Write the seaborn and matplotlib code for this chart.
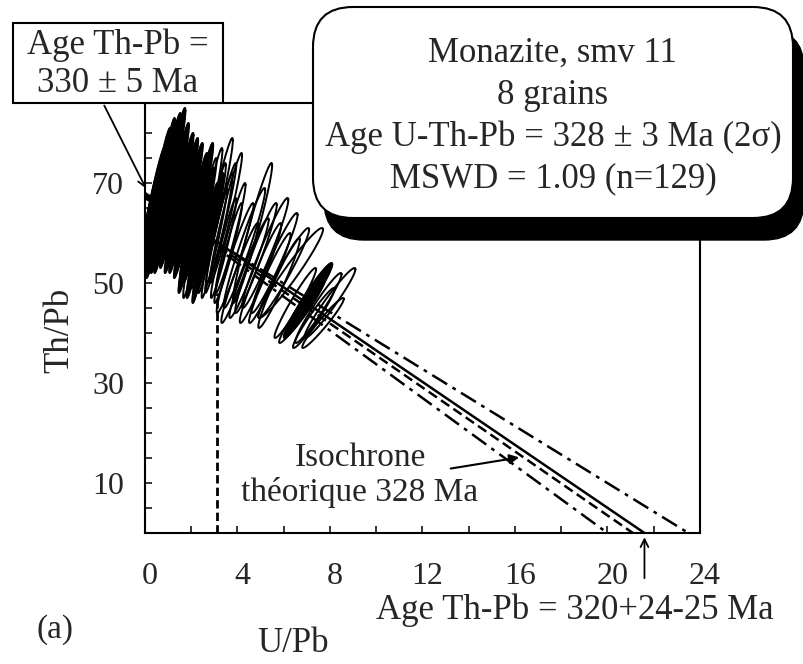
import numpy as np
import seaborn as sns
import matplotlib.pyplot as plt
from matplotlib.patches import FancyBboxPatch, Rectangle
from matplotlib.transforms import ScaledTranslation

# monazite analyses: ellipse centre (U/Pb, Th/Pb), half extents, filled or not
ell_x = [0.2, 0.3, 0.4, 0.5, 0.6, 0.7, 0.8, 0.9, 1.0, 1.1, 1.2, 1.3, 1.4, 1.5, 1.6, 1.7, 1.8,
         1.9, 2.0, 2.1, 2.2, 2.3, 2.4, 2.5, 2.6, 2.7, 2.8, 2.9, 3.0, 3.1, 3.2, 3.3, 3.4, 3.5, 3.6, 3.7,
         3.9, 4.1, 4.3, 4.5, 4.65, 4.8, 5.0, 5.2, 5.4, 5.6, 5.8, 6.0, 6.3,
         6.5, 6.7, 6.9, 7.1, 7.3, 7.5, 7.7, 8.0]
ell_y = [63, 65, 61, 67, 63, 68, 64, 69, 66, 70, 65, 68, 63, 67, 64, 66, 62,
         65, 60, 63, 59, 64, 60, 62, 58, 63, 60, 61, 58, 65, 60, 62, 57, 63, 56, 59,
         55, 52, 57, 53, 60, 55, 52, 56, 51, 54, 50, 52, 52,
         46, 44, 45, 47, 43, 45, 42, 46]
ell_sx = [0.5, 0.55, 0.5, 0.6, 0.55, 0.6, 0.55, 0.65, 0.6, 0.65, 0.55, 0.6, 0.55, 0.6, 0.55, 0.6, 0.55,
          0.6, 0.55, 0.6, 0.55, 0.65, 0.6, 0.6, 0.55, 0.65, 0.6, 0.6, 0.55, 0.7, 0.6, 0.65, 0.55, 0.7, 0.6, 0.65,
          0.8, 0.8, 0.9, 0.85, 0.85, 0.9, 0.9, 1.0, 0.9, 1.0, 0.9, 1.1, 1.4,
          0.9, 0.9, 0.9, 1.0, 0.9, 1.0, 0.9, 1.1]
ell_sy = [11, 12, 10, 14, 12, 15, 12, 15, 14, 15, 12, 14, 11, 13, 12, 13, 11,
          13, 12, 13, 12, 14, 13, 13, 12, 14, 12, 13, 11, 14, 12, 12, 10, 13, 10, 11,
          11, 10, 12, 10, 14, 11, 10, 11, 9, 10, 9, 9, 9,
          7, 6, 6, 7, 6, 7, 5, 7]
ell_fill = [0, 1, 1, 1, 1, 1, 1, 1, 1, 1, 1, 1, 1, 1, 1, 1, 1,
            1, 1, 1, 0, 1, 1, 0, 1, 0, 1, 0, 0, 0, 0, 0, 0, 0, 0, 0,
            0, 0, 0, 0, 0, 0, 0, 0, 0, 0, 0, 0, 0,
            0, 0, 1, 1, 0, 0, 0, 0]
rho = 0.965

# isochrones: Th/Pb intercept and U/Pb intercept
iso_y0 = [67.5, 67.5, 68.0, 67.0]
iso_x0 = [20.0, 21.1, 21.6, 23.5]
iso_ls = [(0, (7, 2.5, 1.5, 2.5)), (0, (4, 2)), "-", (0, (7, 2.5, 1.5, 2.5))]

u_pb_ticks = [0, 2, 4, 6, 8, 10, 12, 14, 16, 18, 20, 22, 24]
u_pb_labels = ["0", "", "4", "", "8", "", "12", "", "16", "", "20", "", "24"]
th_pb_ticks = [5, 10, 15, 20, 25, 30, 35, 40, 45, 50, 55, 60, 65, 70, 75, 80]
th_pb_labels = ["", "10", "", "", "", "30", "", "", "", "50", "", "", "", "70", "", ""]

box_lines = ["Monazite, smv 11", "8 grains",
             "Age U-Th-Pb = 328 \u00b1 3 Ma (2\u03c3)", "MSWD = 1.09 (n=129)"]

sns.set_style("ticks")
plt.rcParams['font.family'] = ['Liberation Serif', 'DejaVu Serif']

fig = plt.figure(figsize=(8.04, 6.64), dpi=100)
ax = fig.add_axes([0.1803, 0.1973, 0.6903, 0.6476])

t = np.linspace(0, 2 * np.pi, 140)
for cx, cy, sx, sy, f in zip(ell_x, ell_y, ell_sx, ell_sy, ell_fill):
    ex = cx + sx * np.cos(t)
    ey = cy + sy * (rho * np.cos(t) + np.sqrt(1 - rho ** 2) * np.sin(t))
    if f:
        ax.fill(ex, ey, color="black", zorder=2)
    ax.plot(ex, ey, color="black", lw=1.4, zorder=3)

for y0, x0, ls in zip(iso_y0, iso_x0, iso_ls):
    sns.lineplot(x=[0, x0], y=[y0, 0], ax=ax, color="black", lw=1.8,
                 linestyle=ls, zorder=4, estimator=None, sort=False)

# vertical dashed line
sns.lineplot(x=[3.1, 3.1], y=[0, 48], ax=ax, color="black", lw=2,
             linestyle=(0, (3, 1.5)), zorder=4, estimator=None, sort=False)

ax.set_xlim(0, 24)
ax.set_ylim(0, 86)
ax.set_xticks(u_pb_ticks)
ax.set_xticklabels(u_pb_labels)
ax.set_yticks(th_pb_ticks)
ax.set_yticklabels(th_pb_labels)
ax.tick_params(direction="in", length=5, width=1.3, labelsize=23)
ax.tick_params(axis="x", pad=21)
ax.tick_params(axis="y", pad=15)
shift = ScaledTranslation(0.05, 0, fig.dpi_scale_trans)
for lab in ax.get_xticklabels():
    lab.set_transform(lab.get_transform() + shift)
for s in ax.spines.values():
    s.set_linewidth(1.5)
    s.set_color("black")

ax.set_xlabel("U/Pb", fontsize=25, va="center")
ax.xaxis.set_label_coords(0.267, -0.256)
ax.set_ylabel("Th/Pb", fontsize=25, va="center")
ax.yaxis.set_label_coords(-0.153, 0.472)

# annotations inside the plot
ax.text(9.3, 11.6, "Isochrone\nth\u00e9orique 328 Ma", fontsize=24,
        ha="center", va="center", linespacing=1.15)
ax.annotate("", xy=(16.3, 15.2), xytext=(13.1, 12.8),
            arrowprops=dict(arrowstyle="-|>", color="black", lw=1.5,
                            mutation_scale=14))
ax.annotate("", xy=(21.6, -0.3), xytext=(21.6, -9.6),
            arrowprops=dict(arrowstyle="->", color="black", lw=1.3,
                            mutation_scale=14), annotation_clip=False)
fig.text(575 / 804, 1 - 610 / 664, "Age Th-Pb = 320+24-25 Ma", fontsize=25,
         ha="center", va="center")
fig.text(55 / 804, 1 - 630 / 664, "(a)", fontsize=24, ha="center", va="center")

# left box with arrow
fig.add_artist(Rectangle((0.13, 5.61), 2.10, 0.80, transform=fig.dpi_scale_trans,
                         fc="white", ec="black", lw=1.5, zorder=5))
fig.text(118 / 804, 1 - 45 / 664, "Age Th-Pb =", fontsize=25, ha="center",
         va="center", zorder=6)
fig.text(118 / 804, 1 - 83 / 664, "330 \u00b1 5 Ma", fontsize=25, ha="center",
         va="center", zorder=6)
ax.annotate("", xy=(0.1, 68.4), xycoords="data", xytext=(103, 561),
            textcoords="figure pixels",
            arrowprops=dict(arrowstyle="->", color="black", lw=1.3,
                            mutation_scale=14), annotation_clip=False)

# rounded box with shadow
fig.add_artist(FancyBboxPatch((3.24, 4.24), 4.80, 2.11,
                              boxstyle="round,pad=0,rounding_size=0.4",
                              transform=fig.dpi_scale_trans, fc="black",
                              ec="black", zorder=5))
fig.add_artist(FancyBboxPatch((3.13, 4.46), 4.80, 2.11,
                              boxstyle="round,pad=0,rounding_size=0.4",
                              transform=fig.dpi_scale_trans, fc="white",
                              ec="black", lw=1.5, zorder=6))
for i, line in enumerate(box_lines):
    fig.text(553 / 804, 1 - (53 + 42 * i) / 664, line, fontsize=25,
             ha="center", va="center", zorder=7)

fig.savefig("out.png", dpi=100)
